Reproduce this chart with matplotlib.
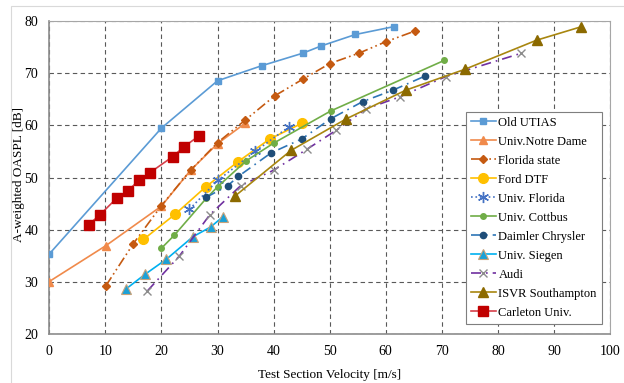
import matplotlib
matplotlib.use('Agg')
import matplotlib.pyplot as plt
from matplotlib.patches import Rectangle
from matplotlib.ticker import MultipleLocator

# Data: velocity [m/s], A-weighted OASPL [dB]
utias_v = [0, 20, 30, 37.9, 45.2, 48.5, 54.6, 61.4]
utias_db = [35.3, 59.5, 68.6, 71.5, 73.9, 75.3, 77.5, 79.0]

notre_v = [0, 10.1, 20, 25.2, 30, 34.9]
notre_db = [30.0, 36.9, 44.5, 51.4, 56.5, 60.4]

fsu_v = [10.1, 15.0, 20, 25.2, 30, 34.9, 40.2, 45.2, 50.0, 55.2, 60.0, 65.3]
fsu_db = [29.2, 37.3, 44.6, 51.4, 56.7, 61.0, 65.7, 68.9, 71.9, 73.9, 76.1, 78.2]

ford_v = [16.8, 22.4, 27.9, 33.6, 39.3, 45.0]
ford_db = [38.1, 42.9, 48.2, 53.0, 57.4, 60.4]

uf_v = [25.0, 30.1, 36.7, 42.8]
uf_db = [43.9, 49.5, 55.0, 59.8]

cottbus_v = [20.0, 22.3, 28.0, 30.0, 35.1, 40.0, 50.2, 70.4]
cottbus_db = [36.4, 38.9, 46.0, 48.2, 53.2, 56.6, 62.8, 72.5]

daimler_v = [28.0, 31.8, 33.7, 39.5, 45.0, 50.2, 55.9, 61.3, 67.0]
daimler_db = [46.2, 48.4, 50.2, 54.7, 57.4, 61.3, 64.6, 66.8, 69.5]

siegen_v = [13.6, 17.1, 20.9, 25.6, 28.8, 31.0]
siegen_db = [28.5, 31.4, 34.3, 38.6, 40.5, 42.5]

audi_v = [17.5, 23.2, 28.6, 34.1, 40.0, 45.9, 51.2, 56.5, 62.5, 70.7, 84.2]
audi_db = [28.2, 34.9, 42.8, 48.4, 51.4, 55.4, 59.1, 63.2, 65.5, 69.4, 73.9]

isvr_v = [33.2, 43.1, 53.0, 63.6, 74.1, 86.9, 94.9]
isvr_db = [46.5, 55.2, 61.3, 66.8, 70.8, 76.4, 79.0]

carleton_v = [7.0, 9.0, 12.0, 14.0, 16.0, 17.9, 22.0, 24.0, 26.7]
carleton_db = [40.9, 42.8, 46.0, 47.4, 49.5, 50.9, 54.0, 55.9, 58.0]

plt.rcParams['font.family'] = ['Liberation Serif', 'DejaVu Serif']

fig = plt.figure(figsize=(6.24, 3.83), dpi=100)
fig.patches.append(Rectangle((11/624, -0.01), 1.0, 1 - 6/383 + 0.01,
                             transform=fig.transFigure, fill=False,
                             edgecolor='#D9D9D9', linewidth=0.8))
ax = fig.add_axes([0.079, 0.1292, 0.8986, 0.8147])

lw = 1.2
ax.plot(utias_v, utias_db, '-s', color='#5B9BD5', lw=lw, ms=5, label='Old UTIAS', zorder=3)
ax.plot(notre_v, notre_db, '-^', color='#F08A4B', lw=lw, ms=6, label='Univ.Notre Dame', zorder=3)
ax.plot(fsu_v, fsu_db, color='#C55A11', lw=lw, marker='D', ms=4, dashes=[6, 2, 1, 2, 1, 2],
        label='Florida state', zorder=3)
ax.plot(ford_v, ford_db, '-o', color='#FFC000', lw=lw, ms=7, label='Ford DTF', zorder=3)
ax.plot(uf_v, uf_db, ':', color='#4472C4', lw=lw, marker=(6, 2, 0), ms=8, mec='#4472C4',
        label='Univ. Florida', zorder=3)
ax.plot(cottbus_v, cottbus_db, '-o', color='#70AD47', lw=lw, ms=4, label='Univ. Cottbus', zorder=3)
ax.plot(daimler_v, daimler_db, color='#2E75B6', lw=lw, dashes=[6, 3, 1, 3], marker='o', ms=4.5,
        mfc='#1F4E79', mec='#1F4E79', label='Daimler Chrysler', zorder=3)
ax.plot(siegen_v, siegen_db, '-^', color='#00B0F0', lw=lw, ms=7, mfc='#1BA1D8', mec='#C8A27A',
        mew=0.8, label='Univ. Siegen', zorder=3)
ax.plot(audi_v, audi_db, color='#7030A0', lw=lw, dashes=[6, 3, 1, 3], marker='x', ms=6,
        mec='#8C8C8C', mew=1.0, label='Audi', zorder=3)
ax.plot(isvr_v, isvr_db, '-^', color='#A8860F', lw=lw, ms=7, mfc='#8C6A00', mec='#8C6A00',
        label='ISVR Southampton', zorder=3)
ax.plot(carleton_v, carleton_db, '-s', color='#D6404A', lw=lw, ms=7, mfc='#C00000', mec='#C00000',
        label='Carleton Univ.', zorder=3)

ax.set_xlim(0, 100)
ax.set_ylim(20, 80)
ax.xaxis.set_major_locator(MultipleLocator(10))
ax.yaxis.set_major_locator(MultipleLocator(10))
ax.grid(True, color='#595959', linestyle=(0, (4, 3)), linewidth=0.8)
ax.tick_params(length=0, labelsize=10, pad=8, colors='black')
for s in ['top', 'right']:
    ax.spines[s].set_color('#A6A6A6')
    ax.spines[s].set_linewidth(0.8)
for s in ['left', 'bottom']:
    ax.spines[s].set_color('#8C8C8C')
    ax.spines[s].set_linewidth(1.2)

ax.set_xlabel('Test Section Velocity [m/s]', fontsize=9.5, labelpad=8)
ax.set_ylabel('A-weighted OASPL [dB]', fontsize=9.5)
ax.yaxis.set_label_coords(-0.044, 0.51)

leg = ax.legend(loc='lower right', bbox_to_anchor=(0.9964, 0.011), fontsize=9, fancybox=False,
                edgecolor='#7F7F7F', framealpha=1, handlelength=2.0, handletextpad=0.2,
                labelspacing=0.56, borderpad=0.4)
leg.get_frame().set_linewidth(0.8)

fig.savefig('out.png', dpi=100)
